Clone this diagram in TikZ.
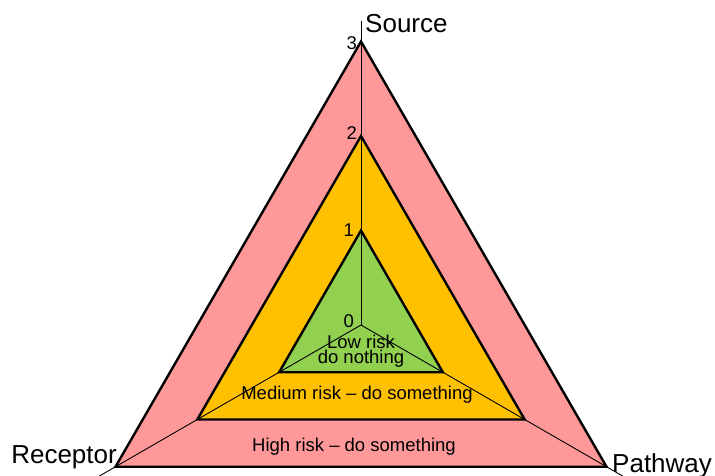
\documentclass[tikz,border=0pt]{standalone}
\usepackage{fontspec}
\setmainfont{Liberation Sans}
\usetikzlibrary{calc}
\definecolor{riskhigh}{HTML}{FF9999}
\definecolor{riskmed}{HTML}{FFC000}
\definecolor{risklow}{HTML}{92D050}
\begin{document}
\begin{tikzpicture}[x=1pt,y=1pt,
  band/.style={draw=black,line width=2.4pt,line join=miter},
  axisline/.style={draw=black,line width=0.9pt},
  axislabel/.style={font=\fontsize{26}{30}\selectfont,inner sep=0pt},
  zonelabel/.style={font=\fontsize{18.5}{13.5}\selectfont,inner sep=0pt,align=center,anchor=base},
  ticklabel/.style={font=\fontsize{18.5}{20}\selectfont,inner sep=0pt,anchor=base east}]
\useasboundingbox (0,0) rectangle (715,475);
\clip (0,0) rectangle (715,475);
% centre of the chart and one unit of risk along each axis
\def\u{94.5}
\coordinate (O) at (361,150);
\foreach \k in {0,1,2,3}{
  \coordinate (S\k) at ($(O)+(90:\k*\u)$);
  \coordinate (P\k) at ($(O)+(-30:\k*\u)$);
  \coordinate (R\k) at ($(O)+(210:\k*\u)$);
}
% risk bands, outermost first
\path[band,fill=riskhigh] (S3) -- (P3) -- (R3) -- cycle;
\path[band,fill=riskmed] (S2) -- (P2) -- (R2) -- cycle;
\path[band,fill=risklow] (S1) -- (P1) -- (R1) -- cycle;
% the three axes
\coordinate (Send) at ($(O)+(90:3.22*\u)$);
\coordinate (Pend) at ($(O)+(-30:3.22*\u)$);
\coordinate (Rend) at ($(O)+(210:3.22*\u)$);
\draw[axisline] (O) -- (Send);
\draw[axisline] (O) -- (Pend);
\draw[axisline] (O) -- (Rend);
% axis names
\node[axislabel,anchor=base west] (src) at (365,442) {Source};
\node[axislabel,anchor=base east] (rec) at (117,12) {Receptor};
\node[axislabel,anchor=base west] (pat) at (612,3) {Pathway};
% scale values on the source axis
\node[ticklabel] (t3) at (357,425) {3};
\node[ticklabel] (t2) at (357,336) {2};
\node[ticklabel] (t1) at (354,239) {1};
\node[ticklabel] (t0) at (354,148) {0};
% zone captions
\node[zonelabel] (low) at (361,112) {Low risk\\do nothing};
\node[zonelabel] (med) at (357,76) {Medium risk – do something};
\node[zonelabel] (high) at (354,24) {High risk – do something};
\end{tikzpicture}
\end{document}
